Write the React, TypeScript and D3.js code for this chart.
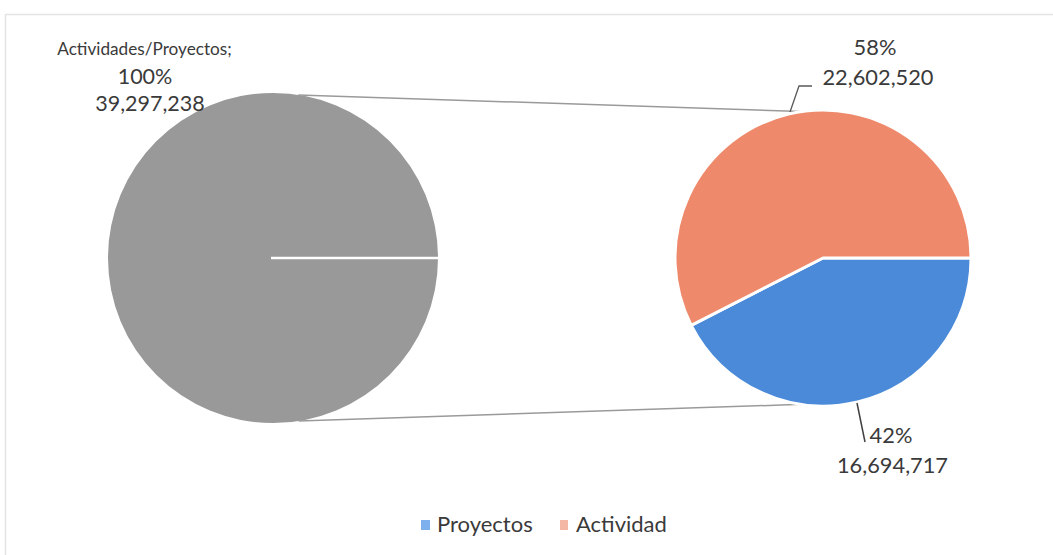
import React from "react";
import * as d3 from "d3";

const categories = ["Proyectos", "Actividad"];
const values = [16694717, 22602520];
const mainCategory = "Actividades/Proyectos";
const mainValue = 39297238;
const pieColors = ["#4a8ad9", "#ee8a6b"];
const legendColors = ["#7db0ec", "#f5b7a5"];
const mainColor = "#999999";

const W = 1053;
const H = 555;
const FONT = "Lato, 'Open Sans', sans-serif";
const TXT = "#3a3a3a";

export default function App() {
  const fmt = d3.format(",");
  const pct = d3.format(".0%");
  const total = d3.sum(values);

  const lc = { x: 273, y: 258, r: 165 };
  const rc = { x: 823, y: 258, r: 148 };

  const pie = d3
    .pie<number>()
    .sort(null)
    .startAngle(Math.PI / 2)
    .endAngle(Math.PI / 2 + 2 * Math.PI);
  const arcs = pie(values);
  const arcR = d3.arc<d3.PieArcDatum<number>>().innerRadius(0).outerRadius(rc.r);

  const mainArc = d3.arc()({
    innerRadius: 0,
    outerRadius: lc.r,
    startAngle: Math.PI / 2,
    endAngle: Math.PI / 2 + 2 * Math.PI,
  } as any) as string;

  const pt = (c: { x: number; y: number; r: number }, deg: number) => {
    const a = (deg * Math.PI) / 180;
    return [c.x + c.r * Math.sin(a), c.y - c.r * Math.cos(a)];
  };
  const lTop = pt(lc, 8.8);
  const lBot = pt(lc, 171);
  const rTop = pt(rc, -8.3);
  const rBot = pt(rc, 188.5);

  return (
    <svg width={W} height={H} style={{ position: "absolute", left: 0, top: 0, background: "#fff" }}>
      <rect x={5.5} y={14.5} width={W + 10} height={H + 10} fill="none" stroke="#e4e4e4" strokeWidth={1.5} />

      {/* main pie */}
      <path d={mainArc} transform={`translate(${lc.x},${lc.y})`} fill={mainColor} />
      <line x1={lc.x - 2} y1={lc.y} x2={lc.x + lc.r + 1} y2={lc.y} stroke="#fff" strokeWidth={2.5} />

      {/* connectors */}
      <line x1={lTop[0]} y1={lTop[1]} x2={rTop[0]} y2={rTop[1]} stroke="#9a9a9a" strokeWidth={1.5} />
      <line x1={lBot[0]} y1={lBot[1]} x2={rBot[0]} y2={rBot[1]} stroke="#9a9a9a" strokeWidth={1.5} />

      {/* secondary pie */}
      <g transform={`translate(${rc.x},${rc.y})`}>
        {arcs.map((a, i) => (
          <path key={categories[i]} d={arcR(a) as string} fill={pieColors[i]} stroke="#fff" strokeWidth={3} strokeLinejoin="round" />
        ))}
      </g>

      {/* leader lines */}
      <polyline points="790,112 799,86 812,86" fill="none" stroke="#595959" strokeWidth={1.3} />
      <line x1={857} y1={403} x2={865} y2={442} stroke="#404040" strokeWidth={1.5} />

      {/* labels */}
      <g fontFamily={FONT} fill={TXT} textAnchor="middle">
        <text x={144.5} y={55} fontSize={17.2}>{mainCategory + ";"}</text>
        <text x={145} y={84} fontSize={21.5}>{pct(mainValue / mainValue)}</text>
        <text x={150} y={111} fontSize={21.5}>{fmt(mainValue)}</text>

        <text x={875} y={55} fontSize={21.8}>{pct(values[1] / total)}</text>
        <text x={878} y={85} fontSize={21.8}>{fmt(values[1])}</text>

        <text x={891} y={443} fontSize={21.8}>{pct(values[0] / total)}</text>
        <text x={892.5} y={473} fontSize={21.8}>{fmt(values[0])}</text>
      </g>

      {/* legend */}
      <g fontFamily={FONT} fill={TXT} fontSize={22}>
        <rect x={421} y={520} width={9} height={10} fill={legendColors[0]} />
        <text x={437} y={532}>{categories[0]}</text>
        <rect x={560} y={520} width={8} height={10} fill={legendColors[1]} />
        <text x={576} y={532}>{categories[1]}</text>
      </g>
    </svg>
  );
}
